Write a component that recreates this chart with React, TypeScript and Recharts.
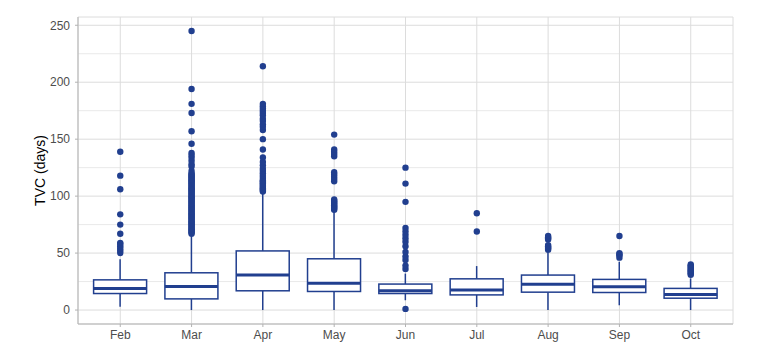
import { ComposedChart, Bar, Scatter, XAxis, YAxis, CartesianGrid } from "recharts";

const months = ["Feb", "Mar", "Apr", "May", "Jun", "Jul", "Aug", "Sep", "Oct"];

// box statistics (days)
const lowWhisker = [3, 0, 0, 0, 8.6, 2.7, 0, 4.2, 0];
const q1 = [14.5, 9.8, 16.9, 16.3, 14.5, 13.3, 15.7, 15.4, 10.4];
const median = [19, 20.7, 30.7, 23.6, 16.9, 17.7, 22.7, 20.4, 13.7];
const q3 = [26.5, 32.7, 51.9, 45, 22.8, 27.4, 30.7, 26.9, 19];
const highWhisker = [44.5, 66, 102.7, 86.5, 32, 38.6, 51, 42.4, 27.8];

const febOut = [50, 52, 54, 56, 58, 59, 67, 75, 84, 106, 118, 139];
const marOut = [
  67, 68, 69, 70, 71, 72, 73, 74, 75, 76, 77, 78, 79, 80, 81, 82, 83, 84, 85, 86, 87, 88, 89, 90,
  91, 92, 93, 94, 95, 96, 97, 98, 99, 100, 101, 102, 103, 104, 105, 106, 107, 108, 109, 110, 111,
  112, 113, 114, 115, 116, 117, 118, 119, 120, 122, 126, 128, 131, 134, 136, 138, 146, 157, 173,
  181, 194, 245,
];
const aprOut = [
  104, 105, 106, 107, 108, 109, 110, 111, 112, 113, 114, 116, 118, 120, 122, 124, 127, 130, 134,
  141, 150, 158, 161, 163, 166, 168, 171, 173, 175, 177, 179, 181, 214,
];
const mayOut = [88, 89, 90, 91, 92, 93, 94, 95, 96, 97, 113, 115, 117, 119, 121, 135, 137, 139, 141, 154];
const junOut = [1, 36, 39, 44, 47, 51, 56, 60, 63, 66, 69, 72, 95, 111, 125];
const julOut = [69, 85];
const augOut = [53, 54, 55, 56, 57, 62, 63, 64, 65];
const sepOut = [46, 48, 49, 50, 65];
const octOut = [31, 32, 33, 34, 35, 36, 37, 38, 39, 40];
const outliers = [febOut, marOut, aprOut, mayOut, junOut, julOut, augOut, sepOut, octOut];

const yTicks = [0, 50, 100, 150, 200, 250];
const yMinor = [25, 75, 125, 175, 225];
const yDomain = [-12.25, 257.25];

const BLUE = "#213f8f";
const GRID = "#dcdcdc";
const BORDER = "#b3b3b3";

const boxData = months.map((month, i) => ({
  month,
  box: [q1[i], q3[i]],
  low: lowWhisker[i],
  q1: q1[i],
  median: median[i],
  q3: q3[i],
  high: highWhisker[i],
}));

const outlierData = months.flatMap((month, i) => outliers[i].map((v) => ({ month, v })));

function BoxShape(props: any) {
  const { x, y, width, height, payload } = props;
  const top = Math.min(y, y + height);
  const h = Math.abs(height);
  const ppu = h / (payload.q3 - payload.q1);
  const py = (v: number) => top + (payload.q3 - v) * ppu;
  const cx = x + width / 2;
  return (
    <g>
      <line x1={cx} x2={cx} y1={py(payload.high)} y2={top} stroke={BLUE} strokeWidth={1.5} />
      <line x1={cx} x2={cx} y1={top + h} y2={py(payload.low)} stroke={BLUE} strokeWidth={1.5} />
      <rect x={x} y={top} width={width} height={h} fill="#fff" stroke={BLUE} strokeWidth={1.5} />
      <line x1={x} x2={x + width} y1={py(payload.median)} y2={py(payload.median)} stroke={BLUE} strokeWidth={3} />
    </g>
  );
}

const Dot = (p: any) => <circle cx={p.cx} cy={p.cy} r={3.2} fill={BLUE} />;

export default function App() {
  return (
    <div
      style={{
        position: "absolute",
        left: 0,
        top: 0,
        fontFamily: "'Liberation Sans', Arial, sans-serif",
        background: "#fff",
      }}
    >
      <ComposedChart
        width={769}
        height={359}
        data={boxData}
        margin={{ top: 17, right: 36, bottom: 0, left: 0 }}
      >
        <CartesianGrid vertical={false} horizontalValues={yMinor} stroke="#e9e9e9" strokeWidth={1} />
        <CartesianGrid stroke={GRID} strokeWidth={1} />
        <XAxis
          dataKey="month"
          allowDuplicatedCategory={false}
          height={35}
          padding={{ left: 6.6, right: 6.6 }}
          tickSize={3}
          tickMargin={3}
          tickLine={{ stroke: BORDER }}
          axisLine={{ stroke: BORDER }}
          tick={{ fill: "#4d4d4d", fontSize: 12 }}
          interval={0}
        />
        <XAxis
          xAxisId="top"
          orientation="top"
          dataKey="month"
          allowDuplicatedCategory={false}
          height={0}
          tick={false}
          tickLine={false}
          axisLine={{ stroke: BORDER }}
        />
        <YAxis
          type="number"
          width={78}
          domain={yDomain}
          allowDataOverflow
          ticks={yTicks}
          tickSize={3}
          tickMargin={5}
          tickLine={{ stroke: BORDER }}
          axisLine={{ stroke: BORDER }}
          tick={{ fill: "#4d4d4d", fontSize: 12 }}
          label={{ value: "TVC (days)", angle: -90, position: "center", dx: 1, style: { fill: "#000", fontSize: 14 } }}
        />
        <YAxis
          yAxisId="right"
          orientation="right"
          type="number"
          width={0}
          domain={yDomain}
          allowDataOverflow
          tick={false}
          tickLine={false}
          axisLine={{ stroke: BORDER }}
        />
        <Bar dataKey="box" barSize={53} shape={BoxShape} isAnimationActive={false} />
        <Scatter data={outlierData} dataKey="v" shape={Dot} isAnimationActive={false} />
      </ComposedChart>
    </div>
  );
}
